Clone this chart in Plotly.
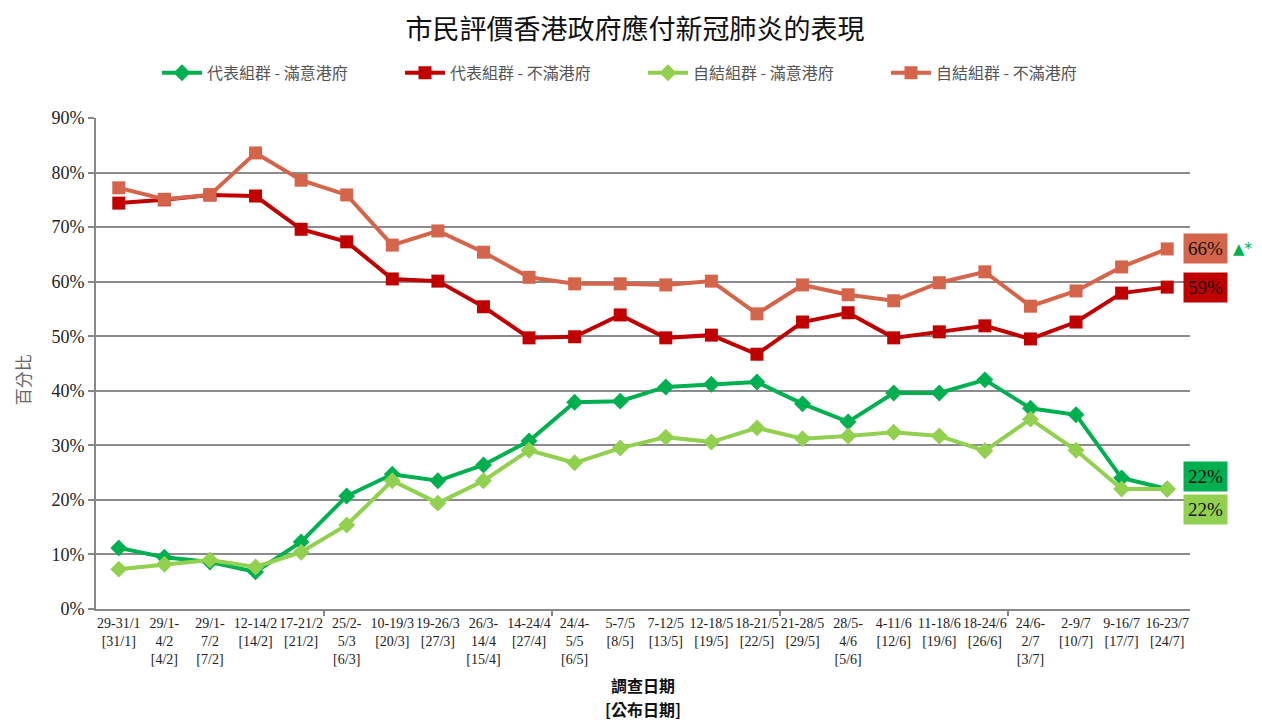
import plotly.graph_objects as go

categories = [
    "29-31/1<br>[31/1]", "29/1-<br>4/2<br>[4/2]", "29/1-<br>7/2<br>[7/2]", "12-14/2<br>[14/2]",
    "17-21/2<br>[21/2]", "25/2-<br>5/3<br>[6/3]", "10-19/3<br>[20/3]", "19-26/3<br>[27/3]",
    "26/3-<br>14/4<br>[15/4]", "14-24/4<br>[27/4]", "24/4-<br>5/5<br>[6/5]", "5-7/5<br>[8/5]",
    "7-12/5<br>[13/5]", "12-18/5<br>[19/5]", "18-21/5<br>[22/5]", "21-28/5<br>[29/5]",
    "28/5-<br>4/6<br>[5/6]", "4-11/6<br>[12/6]", "11-18/6<br>[19/6]", "18-24/6<br>[26/6]",
    "24/6-<br>2/7<br>[3/7]", "2-9/7<br>[10/7]", "9-16/7<br>[17/7]", "16-23/7<br>[24/7]",
]

rep_satisfied = [11.2, 9.5, 8.6, 6.8, 12.3, 20.7, 24.7, 23.5, 26.4, 30.8, 37.9, 38.1,
                 40.7, 41.2, 41.6, 37.6, 34.3, 39.6, 39.6, 42.0, 36.8, 35.6, 24.0, 22.0]
self_satisfied = [7.3, 8.2, 9.0, 7.7, 10.4, 15.4, 23.5, 19.4, 23.5, 29.1, 26.8, 29.5,
                  31.5, 30.6, 33.2, 31.2, 31.7, 32.4, 31.7, 29.0, 34.8, 29.1, 22.0, 22.0]
rep_dissatisfied = [74.4, 75.0, 75.9, 75.7, 69.6, 67.3, 60.5, 60.1, 55.4, 49.7, 49.9, 53.9,
                    49.7, 50.2, 46.7, 52.6, 54.3, 49.7, 50.8, 51.9, 49.5, 52.6, 57.9, 59.0]
self_dissatisfied = [77.2, 75.1, 75.9, 83.6, 78.6, 75.9, 66.7, 69.3, 65.4, 60.8, 59.6, 59.6,
                     59.4, 60.1, 54.1, 59.4, 57.6, 56.5, 59.8, 61.8, 55.5, 58.3, 62.7, 66.0]

series_names = ["代表組群 - 滿意港府", "代表組群 - 不滿港府", "自結組群 - 滿意港府", "自結組群 - 不滿港府"]
end_labels = ["22%", "59%", "22%", "66%"]

C_DG = "#00B050"
C_RED = "#C00000"
C_LG = "#92D050"
C_OR = "#D5654A"

xs = list(range(len(categories)))
fig = go.Figure()

def add(vals, name, color, symbol, size):
    fig.add_trace(go.Scatter(
        x=xs, y=vals, name=name, mode="lines+markers",
        line=dict(color=color, width=4),
        marker=dict(symbol=symbol, size=size, color=color),
    ))

add(rep_satisfied, series_names[0], C_DG, "diamond", 13)
add(rep_dissatisfied, series_names[1], C_RED, "square", 13)
add(self_satisfied, series_names[2], C_LG, "diamond", 13)
add(self_dissatisfied, series_names[3], C_OR, "square", 13)

serif = "Liberation Serif, Noto Sans CJK TC, serif"
last = len(categories) - 1

def end_box(val, text, color, yshift):
    fig.add_annotation(x=last, y=val, xref="x", yref="y", text=text, showarrow=False,
                       xshift=38, yshift=yshift, bgcolor=color, borderpad=4,
                       font=dict(family=serif, size=19, color="#111111"))

end_box(self_dissatisfied[-1], end_labels[3], C_OR, 0)
end_box(rep_dissatisfied[-1], end_labels[1], C_RED, 0)
end_box(rep_satisfied[-1], end_labels[0], C_DG, 12)
end_box(self_satisfied[-1], end_labels[2], C_LG, -21)
fig.add_annotation(x=last, y=self_dissatisfied[-1], xref="x", yref="y", text="▲*",
                   showarrow=False, xanchor="left", xshift=64, yshift=0,
                   font=dict(family="DejaVu Sans", size=15, color=C_DG))

# axis titles as annotations
fig.add_annotation(xref="paper", yref="paper", x=0.5, y=-0.154, yanchor="middle",
                   text="<b>調查日期</b>", showarrow=False,
                   font=dict(family="Noto Sans CJK TC", size=16, color="#111111"))
fig.add_annotation(xref="paper", yref="paper", x=0.5, y=-0.203, yanchor="middle",
                   text="<b>[公布日期]</b>", showarrow=False,
                   font=dict(family="Noto Sans CJK TC", size=16, color="#111111"))
fig.add_annotation(xref="paper", yref="paper", x=-0.0676, y=0.466, xanchor="center",
                   yanchor="middle", textangle=-90, text="百分比", showarrow=False,
                   font=dict(family="Noto Sans CJK TC", size=17, color="#666666"))

fig.update_layout(
    width=1254, height=714,
    paper_bgcolor="white", plot_bgcolor="white",
    margin=dict(l=88, r=72, t=110, b=113, autoexpand=False),
    title=dict(text="市民評價香港政府應付新冠肺炎的表現", x=0.5, xanchor="center", y=0.97, yanchor="middle",
               font=dict(family="Noto Sans CJK TC", size=27, color="#111111")),
    legend=dict(orientation="h", x=0.5, xanchor="center", y=1.092, yanchor="middle",
                font=dict(family="Noto Sans CJK TC", size=16, color="#555555"),
                entrywidth=188, entrywidthmode="pixels", itemwidth=40,
                traceorder="normal", tracegroupgap=0),
    showlegend=True,
    xaxis=dict(range=[-0.5, last + 0.5], tickmode="array", tickvals=xs, ticktext=categories,
               tickangle=0, showgrid=False, zeroline=False, showline=True, linecolor="#888888",
               linewidth=2, ticks="", automargin=False,
               tickfont=dict(family=serif, size=14, color="#222222")),
    xaxis2=dict(range=[-0.5, last + 0.5], overlaying="x", side="bottom", tickmode="array",
                tickvals=[4.5, 9.5, 14.5, 19.5], ticktext=["", "", "", ""], ticks="outside",
                ticklen=6, tickwidth=2, tickcolor="#888888", showgrid=False, zeroline=False,
                showline=False, anchor="y"),
    yaxis=dict(range=[0, 90], dtick=10, ticksuffix="%", showgrid=True, gridcolor="#8C8C8C",
               gridwidth=2, zeroline=False, showline=True, linecolor="#888888", linewidth=2,
               ticks="outside", ticklen=6, tickwidth=2, tickcolor="#888888", automargin=False,
               tickfont=dict(family=serif, size=18, color="#222222")),
)
# invisible trace to activate xaxis2 tick marks
fig.add_trace(go.Scatter(x=[0], y=[0], xaxis="x2", yaxis="y", mode="markers",
                         marker=dict(opacity=0), showlegend=False, hoverinfo="skip"))

fig.write_html("out.html")
